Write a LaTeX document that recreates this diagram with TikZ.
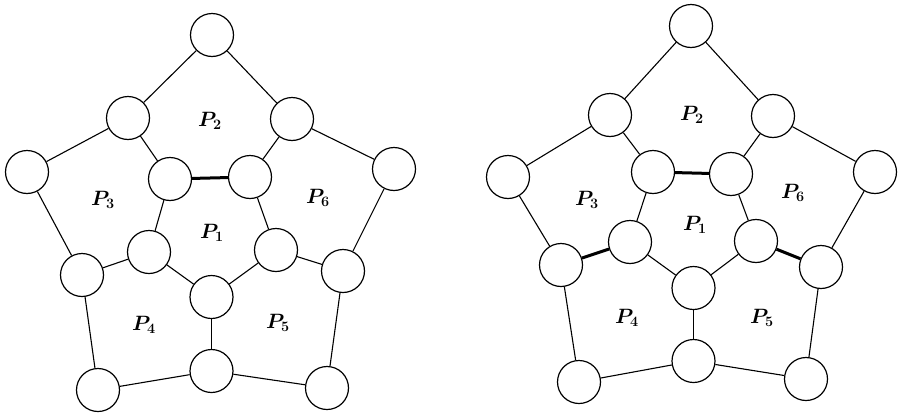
\documentclass[tikz,border=0pt]{standalone}
\usepackage{amsmath}
\begin{document}
\begin{tikzpicture}[x=1pt,y=-1pt,
  vtx/.style={circle,draw,line width=1.2pt,minimum size=43pt,inner sep=0pt,fill=white},
  edge/.style={line width=1.1pt},
  bad/.style={line width=3pt},
  lbl/.style={font=\fontsize{20.74}{24}\selectfont\boldmath}]
\useasboundingbox (0,0) rectangle (900,418);
% ---------- left diagram ----------
\foreach \n/\x/\y in {aT/212/35, aUL/128/118, aUR/292/119, aFL/27/172, aILT/170/179,
  aIRT/250/177, aFR/394/169, aLM/82/275, aILL/149/252, aIRL/276/250, aRM/343/271,
  aC/211.5/297, aBC/211.5/371, aBL/98/390, aBR/327/388}
  \node[vtx] (\n) at (\x,\y) {};
\draw[edge] (aT) -- (aUL);
\draw[edge] (aT) -- (aUR);
\draw[edge] (aUL) -- (aFL);
\draw[edge] (aUL) -- (aILT);
\draw[edge] (aUR) -- (aIRT);
\draw[edge] (aUR) -- (aFR);
\draw[bad] (aILT) -- (aIRT);
\draw[edge] (aFL) -- (aLM);
\draw[edge] (aILT) -- (aILL);
\draw[edge] (aIRT) -- (aIRL);
\draw[edge] (aFR) -- (aRM);
\draw[edge] (aLM) -- (aILL);
\draw[edge] (aILL) -- (aC);
\draw[edge] (aIRL) -- (aC);
\draw[edge] (aIRL) -- (aRM);
\draw[edge] (aLM) -- (aBL);
\draw[edge] (aRM) -- (aBR);
\draw[edge] (aC) -- (aBC);
\draw[edge] (aBL) -- (aBC);
\draw[edge] (aBC) -- (aBR);
\node[lbl] (aP1) at (212,233) {$P_1$};
\node[lbl] (aP2) at (210,121) {$P_2$};
\node[lbl] (aP3) at (103,200) {$P_3$};
\node[lbl] (aP4) at (144,325) {$P_4$};
\node[lbl] (aP5) at (278,323) {$P_5$};
\node[lbl] (aP6) at (318,198) {$P_6$};
% ---------- right diagram ----------
\foreach \n/\x/\y in {bT/691/26, bUL/610/115, bUR/773/116, bFL/508/177, bILT/653/172,
  bIRT/731/174, bFR/875/172, bLM/561/265, bILL/630/242, bIRL/756/241, bRM/821/267,
  bC/693.5/288, bBC/693.5/361, bBL/579/382, bBR/806/379}
  \node[vtx] (\n) at (\x,\y) {};
\draw[edge] (bT) -- (bUL);
\draw[edge] (bT) -- (bUR);
\draw[edge] (bUL) -- (bFL);
\draw[edge] (bUL) -- (bILT);
\draw[edge] (bUR) -- (bIRT);
\draw[edge] (bUR) -- (bFR);
\draw[bad] (bILT) -- (bIRT);
\draw[edge] (bFL) -- (bLM);
\draw[edge] (bILT) -- (bILL);
\draw[edge] (bIRT) -- (bIRL);
\draw[edge] (bFR) -- (bRM);
\draw[bad] (bLM) -- (bILL);
\draw[edge] (bILL) -- (bC);
\draw[edge] (bIRL) -- (bC);
\draw[bad] (bIRL) -- (bRM);
\draw[edge] (bLM) -- (bBL);
\draw[edge] (bRM) -- (bBR);
\draw[edge] (bC) -- (bBC);
\draw[edge] (bBL) -- (bBC);
\draw[edge] (bBC) -- (bBR);
\node[lbl] (bP1) at (695,225) {$P_1$};
\node[lbl] (bP2) at (692,115) {$P_2$};
\node[lbl] (bP3) at (587,200) {$P_3$};
\node[lbl] (bP4) at (627,318) {$P_4$};
\node[lbl] (bP5) at (762,318) {$P_5$};
\node[lbl] (bP6) at (793,193) {$P_6$};
\end{tikzpicture}
\end{document}
